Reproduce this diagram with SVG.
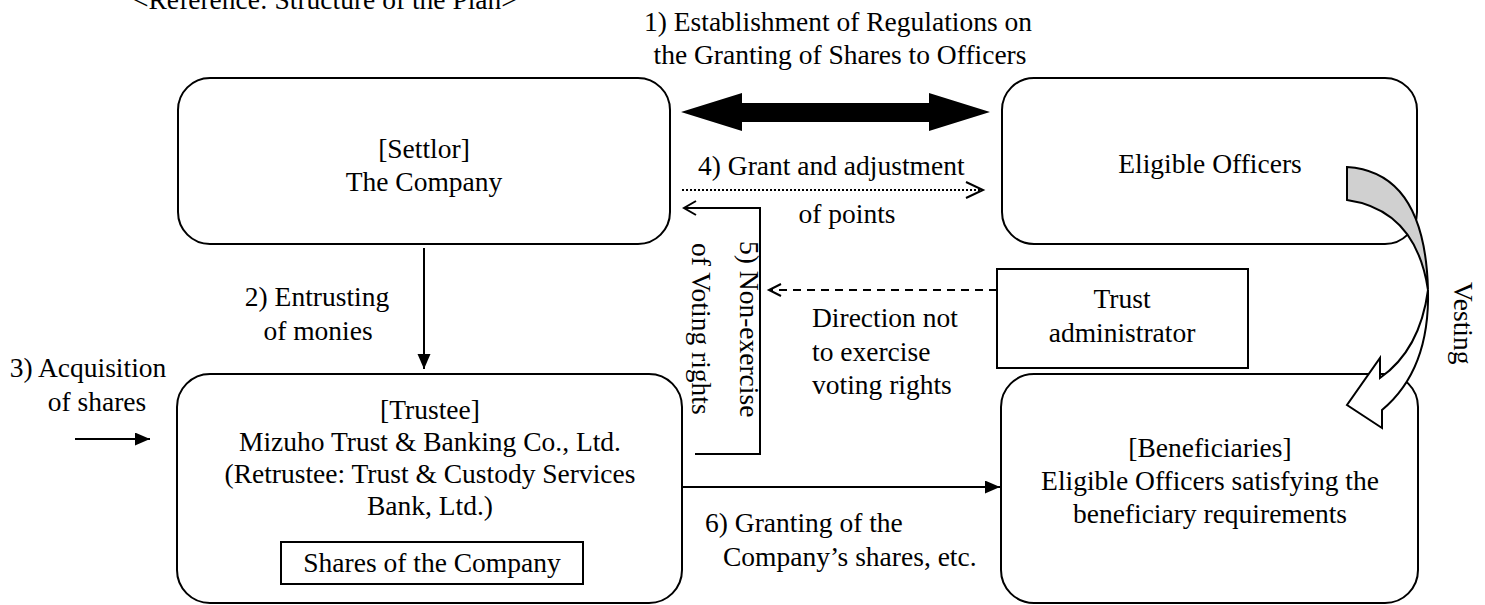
<svg xmlns="http://www.w3.org/2000/svg" width="1485" height="605" viewBox="0 0 1485 605">
<style>
text{font-family:"Liberation Serif","Times New Roman",serif;font-size:27.5px;fill:#000}
.c{text-anchor:middle}
.box{fill:#fff;stroke:#000;stroke-width:2}
.ln{fill:none;stroke:#000;stroke-width:2}
</style>
<defs>
<marker id="fa" markerUnits="userSpaceOnUse" markerWidth="16" markerHeight="14" refX="15" refY="6.5" orient="auto">
<path d="M0,0 L15,6.5 L0,13 Z" fill="#000"/>
</marker>
</defs>
<rect width="1485" height="605" fill="#fff"/>
<text x="133" y="9">&lt;Reference: Structure of the Plan&gt;</text>

<g id="settlor">
<rect class="box" x="178" y="78" width="492" height="166" rx="32"/>
<text class="c" x="424" y="158">[Settlor]</text>
<text class="c" x="424" y="191">The Company</text>
</g>
<g id="eligible-officers">
<rect class="box" x="1002" y="78" width="415" height="166" rx="32"/>
<text class="c" x="1210" y="173">Eligible Officers</text>
</g>
<g id="trust-administrator">
<rect class="box" x="997" y="269" width="251" height="99"/>
<text class="c" x="1122" y="308">Trust</text>
<text class="c" x="1122" y="342">administrator</text>
</g>
<g id="trustee">
<rect class="box" x="177" y="374" width="505" height="229" rx="33"/>
<text class="c" x="430" y="419">[Trustee]</text>
<text class="c" x="430" y="451">Mizuho Trust &amp; Banking Co., Ltd.</text>
<text class="c" x="430" y="483">(Retrustee: Trust &amp; Custody Services</text>
<text class="c" x="430" y="515">Bank, Ltd.)</text>
</g>
<g id="shares">
<rect class="box" x="281" y="542" width="302" height="42"/>
<text class="c" x="432" y="572">Shares of the Company</text>
</g>
<g id="beneficiaries">
<rect class="box" x="1001" y="374" width="417" height="229" rx="33"/>
<text class="c" x="1210" y="457">[Beneficiaries]</text>
<text class="c" x="1210" y="490">Eligible Officers satisfying the</text>
<text class="c" x="1210" y="523">beneficiary requirements</text>
</g>

<g id="connectors">
<polygon points="681,112 742,93 742,103 929,103 929,93 990,112 929,131 929,122 742,122 742,131" fill="#000"/>
<text class="c" x="838" y="31">1) Establishment of Regulations on</text>
<text class="c" x="840" y="64">the Granting of Shares to Officers</text>

<line class="ln" x1="682" y1="190" x2="980" y2="190" stroke-dasharray="2 2"/>
<polyline class="ln" points="966,182 983,190 966,198"/>
<text x="698" y="175">4) Grant and adjustment</text>
<text class="c" x="847" y="223">of points</text>

<polyline class="ln" points="695,454 760,454 760,208 684,208"/>
<polyline class="ln" points="696,201 684,208 696,215"/>
<text transform="translate(740,241) rotate(90)">5) Non-exercise</text>
<text transform="translate(692,243) rotate(90)">of Voting rights</text>

<line class="ln" x1="997" y1="290" x2="770" y2="290" stroke-dasharray="8 6"/>
<polyline class="ln" points="781,284 769,290 781,296"/>
<text x="812" y="327">Direction not</text>
<text x="812" y="361">to exercise</text>
<text x="812" y="394">voting rights</text>

<line class="ln" x1="424" y1="248" x2="424" y2="369" marker-end="url(#fa)"/>
<text class="c" x="317" y="306">2) Entrusting</text>
<text class="c" x="318" y="340">of monies</text>

<line class="ln" x1="75" y1="439" x2="150" y2="439" marker-end="url(#fa)"/>
<text class="c" x="88" y="377">3) Acquisition</text>
<text class="c" x="97" y="411">of shares</text>

<line class="ln" x1="682" y1="487" x2="1000" y2="487" marker-end="url(#fa)"/>
<text x="705" y="532">6) Granting of the</text>
<text x="723" y="566">Company’s shares, etc.</text>

<path d="M1428,290 Q1430,370 1382,410 L1382,428 L1347,405 L1380,358 L1380,378 Q1420,350 1428,290 Z" fill="#fff" stroke="#000" stroke-width="2" stroke-linejoin="miter"/>
<path d="M1347,167 Q1425,172 1428,290 Q1416,210 1347,200 Z" fill="#d0d0d0" stroke="#000" stroke-width="2"/>
<text transform="translate(1454,282) rotate(90)">Vesting</text>
</g>
</svg>
